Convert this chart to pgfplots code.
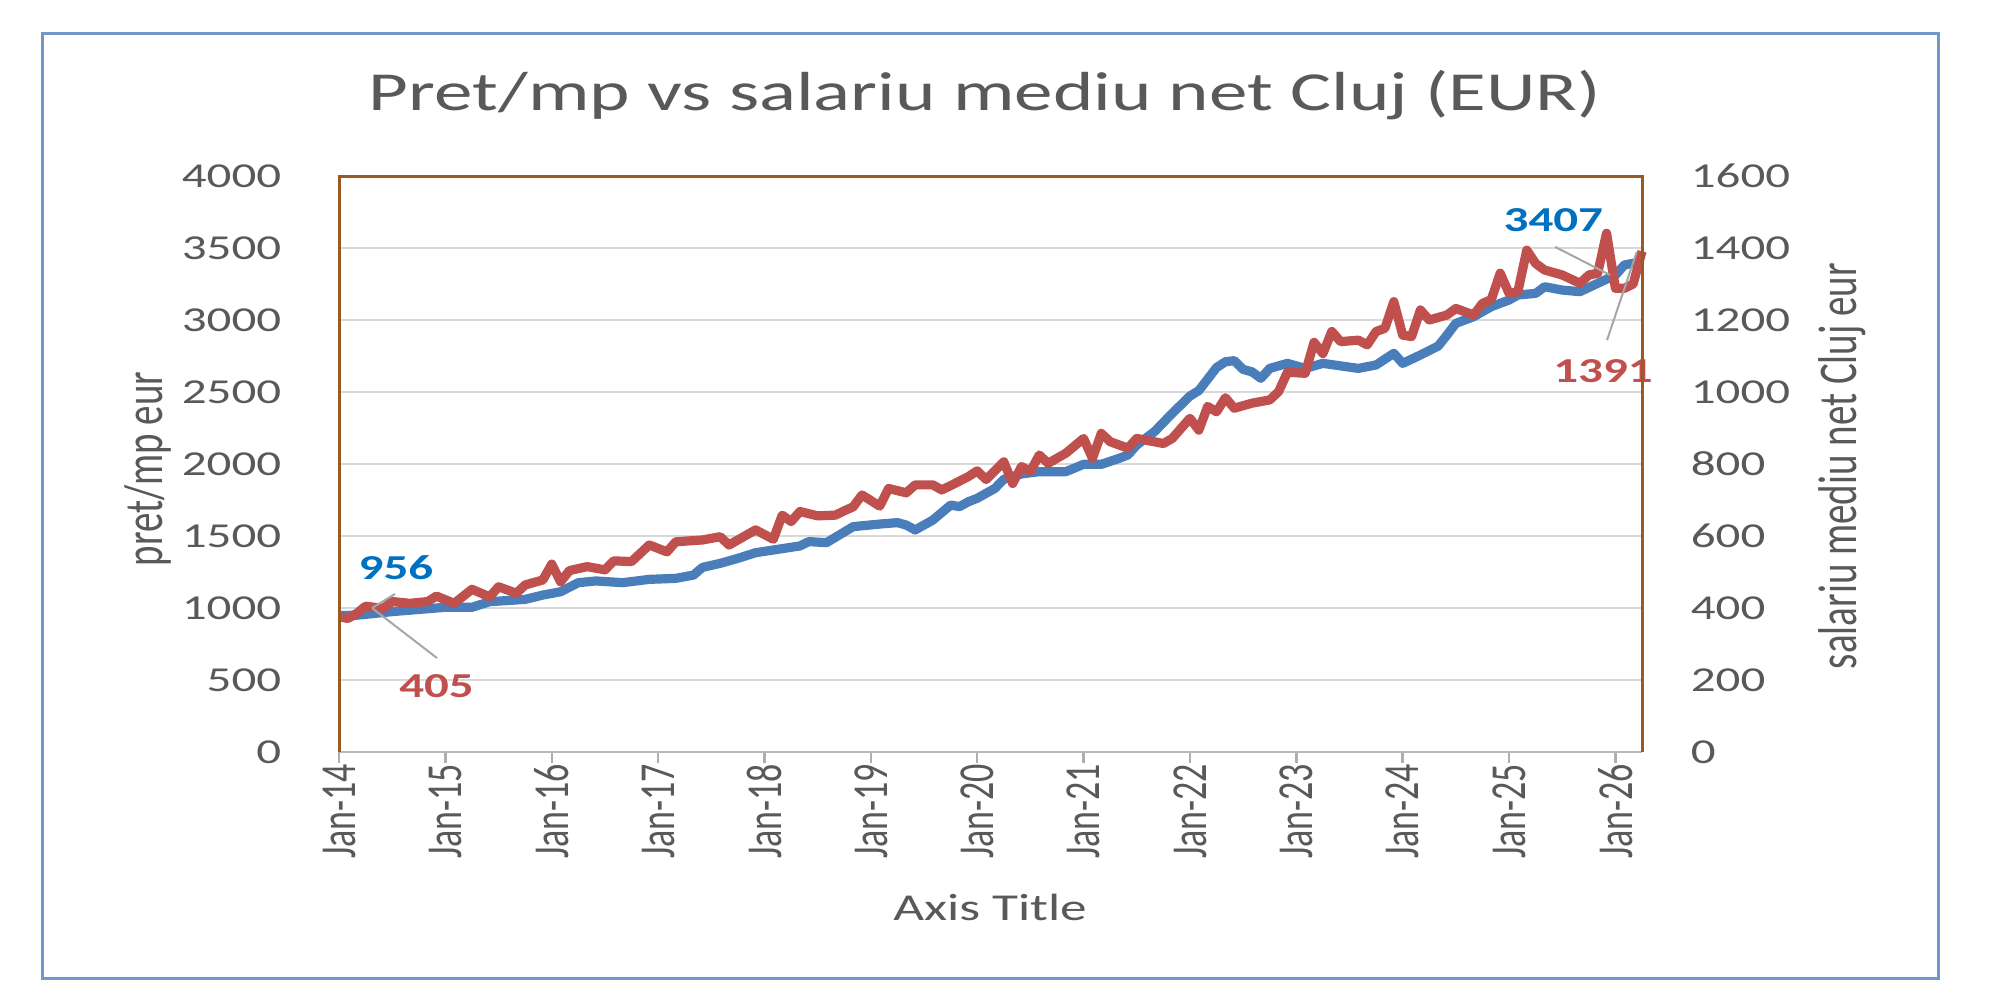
\documentclass[border=0pt]{standalone}
\usepackage{fontspec}
\setmainfont{Carlito}
\newfontfamily\calw[FakeStretch=1.4]{Carlito}
\newfontfamily\calr[FakeStretch=0.714]{Carlito}
\usepackage{pgfplots}
\pgfplotsset{compat=1.18}
\usepackage{pgfplotstable}
\definecolor{bluel}{HTML}{4A7EBB}
\definecolor{redl}{HTML}{C0504D}
\definecolor{bluet}{HTML}{0070C0}
\definecolor{txt}{HTML}{595959}
\definecolor{brd}{HTML}{9A5B22}
\definecolor{frm}{HTML}{7297C9}
\definecolor{grd}{HTML}{D9D9D9}
\definecolor{ldr}{HTML}{A6A6A6}

\pgfplotstableread{
m v
0 948
2 950
3 956
6 975
9 990
12 1005
15 1005
17 1044
21 1060
23 1090
25 1113
27 1176
29 1188
32 1176
35 1199
38 1206
40 1229
41 1282
43 1310
45 1345
47 1384
49 1403
52 1431
53 1461
55 1454
58 1565
61 1583
63 1593
64 1576
65 1542
67 1611
69 1715
70 1704
71 1738
72 1762
74 1831
75 1894
77 1931
79 1947
82 1947
84 1998
86 1998
88 2039
89 2063
90 2132
92 2225
94 2352
96 2472
97 2510
99 2670
100 2710
101 2718
102 2657
103 2640
104 2595
105 2664
107 2699
109 2664
111 2699
115 2664
117 2688
119 2769
120 2699
122 2757
124 2819
125 2896
126 2977
128 3023
130 3093
132 3139
133 3174
135 3185
136 3231
138 3208
140 3197
142 3255
144 3312
145 3382
147 3407
}\pretdata

\pgfplotstableread{
m s
0 376
1 371
2 385
3 405
5 399
6 418
8 413
10 418
11 433
13 413
15 452
17 431
18 459
20 441
21 464
23 478
24 522
25 473
26 504
28 515
30 506
31 531
33 529
35 575
37 556
38 584
41 589
43 598
44 575
47 617
49 591
50 658
51 640
52 668
54 656
56 658
57 670
58 681
59 714
61 683
62 732
64 720
65 742
67 742
68 728
69 740
71 765
72 781
73 757
75 806
76 746
77 793
78 779
79 825
80 802
81 816
82 830
84 871
85 816
86 885
87 862
89 844
90 871
93 857
94 871
96 927
97 894
98 960
99 945
100 984
101 955
103 969
105 978
106 1001
107 1055
109 1052
110 1138
111 1107
112 1168
113 1140
115 1144
116 1131
117 1168
118 1177
119 1251
120 1158
121 1154
122 1228
123 1200
125 1214
126 1232
127 1223
128 1214
129 1246
130 1257
131 1330
132 1274
133 1279
134 1394
135 1357
136 1339
138 1325
140 1302
141 1325
142 1330
143 1441
144 1288
145 1288
146 1300
147 1391
}\salardata

\begin{document}
\begin{tikzpicture}[x=1pt,y=1pt]
\useasboundingbox (0,0) rectangle (500,250);
\fill[white] (0,0) rectangle (500,250);
\draw[frm, line width=0.75pt] (10.5,5.5) rectangle (484.5,241.75);

\begin{axis}[
  at={(84.75pt,62pt)}, anchor=south west,
  scale only axis, width=325.75pt, height=144pt,
  xmin=0, xmax=147, ymin=0, ymax=4000,
  axis line style={draw=none},
  xtick={0,12,...,144},
  xticklabels={Jan-14,Jan-15,Jan-16,Jan-17,Jan-18,Jan-19,Jan-20,Jan-21,Jan-22,Jan-23,Jan-24,Jan-25,Jan-26},
  xtick pos=bottom, tick align=outside, major tick length=2.75pt,
  xtick style={draw=grd!80!black, line width=0.6pt},
  ytick={0,500,...,4000}, ytick pos=left,
  ytick style={draw=none},
  ymajorgrids, grid style={grd, line width=0.55pt},
  scaled y ticks=false,
  /pgf/number format/1000 sep={},
  /pgf/number format/assume math mode=true,
  yticklabel style={anchor=east, inner sep=0pt, xshift=-11.5pt, text=txt, font=\calw\fontsize{8.75}{10}\selectfont},
  xticklabel style={rotate=90, anchor=east, inner sep=0pt, text=txt, font=\calr\fontsize{12.6}{13}\selectfont},
]
\addplot[bluel, line width=2.3pt, line join=round] table[x=m, y=v] {\pretdata};
\end{axis}

\begin{axis}[
  at={(84.75pt,62pt)}, anchor=south west,
  scale only axis, width=325.75pt, height=144pt,
  xmin=0, xmax=147, ymin=0, ymax=1600,
  axis x line=none, axis y line*=right,
  axis line style={draw=none},
  ytick={0,200,...,1600},
  ytick style={draw=none},
  scaled y ticks=false,
  /pgf/number format/1000 sep={},
  /pgf/number format/assume math mode=true,
  yticklabel style={anchor=west, inner sep=0pt, xshift=12pt, text=txt, font=\calw\fontsize{8.75}{10}\selectfont},
  clip=false,
]
\addplot[redl, line width=2.3pt, line join=round] table[x=m, y=s] {\salardata};
\draw[ldr, line width=0.5pt] (axis cs:6.32,439) -- (axis cs:3.72,400);
\draw[ldr, line width=0.5pt] (axis cs:11.06,261) -- (axis cs:3.72,400);
\draw[ldr, line width=0.5pt] (axis cs:137.2,1403) -- (axis cs:143.4,1325);
\draw[ldr, line width=0.5pt] (axis cs:143.05,1144) -- (axis cs:146.4,1389);
\node[text=bluet, font=\calw\bfseries\fontsize{8.75}{10}\selectfont, inner sep=0pt] at (axis cs:6.43,511) {956};
\node[text=redl, font=\calw\bfseries\fontsize{8.75}{10}\selectfont, inner sep=0pt] at (axis cs:11.0,183) {405};
\node[text=bluet, font=\calw\bfseries\fontsize{8.75}{10}\selectfont, inner sep=0pt] at (axis cs:137.0,1478) {3407};
\node[text=redl, font=\calw\bfseries\fontsize{8.75}{10}\selectfont, inner sep=0pt] at (axis cs:142.6,1058) {1391};
\draw[grd!85!black, line width=0.7pt] (rel axis cs:0,0) -- (rel axis cs:1,0);
\draw[brd, line width=0.75pt] (rel axis cs:0,0) -- (rel axis cs:0,1) -- (rel axis cs:1,1) -- (rel axis cs:1,0);
\end{axis}

\node[anchor=base, text=txt, font=\calw\fontsize{13.75}{15}\selectfont] at (246.25,222.5) {Pret/mp vs salariu mediu net Cluj (EUR)};
\node[anchor=base, text=txt, font=\calw\fontsize{9.5}{11}\selectfont] at (247.5,20) {Axis Title};
\node[rotate=90, inner sep=0pt, text=txt, font=\calr\fontsize{13.65}{15}\selectfont] at (37,132.75) {pret/mp eur};
\node[rotate=90, inner sep=0pt, text=txt, font=\calr\fontsize{13.65}{15}\selectfont] at (460.5,133.5) {salariu mediu net Cluj eur};
\end{tikzpicture}
\end{document}
